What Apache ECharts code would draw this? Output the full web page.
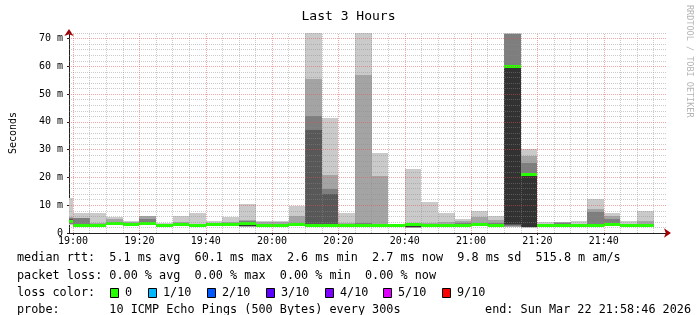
<!DOCTYPE html>
<html><head><meta charset="utf-8">
<script src="https://cdn.jsdelivr.net/npm/echarts@6/dist/echarts.min.js"></script>
<style>html,body{margin:0;padding:0;background:#fff}#c{width:697px;height:315px}</style>
</head><body><div id="c"></div>
<script>
// ---- data (5-minute slots, start times) ----
const slots = ['18:55','19:00','19:05','19:10','19:15','19:20','19:25','19:30','19:35','19:40','19:45','19:50',
  '19:55','20:00','20:05','20:10','20:15','20:20','20:25','20:30','20:35','20:40','20:45','20:50',
  '20:55','21:00','21:05','21:10','21:15','21:20','21:25','21:30','21:35','21:40','21:45','21:50'];
// sorted pings (ms): pingMin .. ping5, median (6th), ping7 .. pingMax
const pingMax = [12.6,7.2,7.2,5.7,4.5,6.1,3.6,6.3,7.2,4.2,5.7,10.4,4.2,4.2,9.9,72,41.5,7.2,72,28.8,2.9,22.9,11.1,7.2,5.0,7.8,6.1,72,30.1,3.9,4.1,4.3,12.1,7.2,4.5,7.8];
const ping9   = [5.7,5.5,3.6,4.9,3.8,6.0,3.1,3.9,3.4,3.4,3.9,4.8,3.9,3.8,6.1,55.4,20.8,3.7,56.9,20.4,2.8,3.5,3.5,3.8,4.2,5.7,4.7,71.8,27.6,3.3,3.8,3.3,8.5,6.1,3.3,4.5];
const ping8   = [5.5,5.3,3.4,4.1,3.6,5.0,3.0,3.6,3.2,3.2,3.5,4.3,3.4,3.2,3.6,42.1,15.7,3.3,3.6,3.4,2.8,3.4,3.3,3.3,3.7,3.7,3.5,71.5,25.2,3.1,3.7,3.1,7.4,5.0,3.1,3.4];
const ping7   = [5.0,3.4,3.1,3.7,3.2,4.0,2.9,3.3,3.0,3.1,3.3,3.8,3.0,2.9,3.2,37.0,13.9,3.0,3.2,3.1,2.7,3.3,3.1,3.0,3.2,3.3,3.1,60.6,21.3,2.9,3.1,2.9,3.1,3.6,2.9,3.1];
const median  = [4.3,2.8,2.8,3.4,2.9,3.4,2.7,3.0,2.8,2.9,2.9,3.6,2.7,2.7,2.9,2.8,2.8,2.7,2.7,2.7,2.6,3.1,2.8,2.7,2.7,2.9,2.6,60.1,21.0,2.7,2.6,2.6,2.6,3.1,2.6,2.7];
const ping5   = [3.7,2.7,2.7,3.3,2.8,3.3,2.6,2.9,2.7,2.8,2.8,2.6,2.6,2.6,2.8,2.7,2.7,2.6,2.6,2.6,2.5,2.2,2.7,2.6,2.6,2.8,2.5,3.2,2.3,2.6,2.5,2.5,2.5,3.0,2.5,2.6];
const ping4   = [3.5,2.6,2.6,3.2,2.7,3.2,2.5,2.8,2.6,2.7,2.7,2.5,2.5,2.5,2.7,2.6,2.6,2.5,2.5,2.5,2.4,2.1,2.6,2.5,2.5,2.7,2.4,2.8,2.2,2.5,2.4,2.4,2.4,2.9,2.4,2.5];
const ping3   = [3.3,2.5,2.5,3.1,2.6,3.0,2.4,2.7,2.5,2.6,2.6,2.4,2.4,2.4,2.6,2.5,2.5,2.4,2.4,2.4,2.3,2.0,2.5,2.4,2.4,2.6,2.3,2.4,2.1,2.4,2.3,2.3,2.3,2.8,2.3,2.4];
const ping2   = [3.1,2.4,2.4,3.0,2.5,2.9,2.3,2.6,2.4,2.5,2.5,2.3,2.3,2.3,2.5,2.4,2.4,2.3,2.3,2.3,2.2,1.9,2.4,2.3,2.3,2.5,2.2,2.1,2.0,2.3,2.2,2.2,2.2,2.7,2.2,2.3];
const pingMin = [2.9,2.3,2.3,2.9,2.4,2.8,2.2,2.5,2.3,2.4,2.4,2.2,2.2,2.2,2.4,2.3,2.3,2.2,2.2,2.2,2.1,1.8,2.3,2.2,2.2,2.4,2.1,2.0,1.9,2.2,2.1,2.1,2.1,2.6,2.1,2.2];

const axisStart = '18:58:46';
const axisEnd = '21:58:46';
const timeTicks = ['19:00','19:20','19:40','20:00','20:20','20:40','21:00','21:20','21:40'];
const yTickValues = [0,10,20,30,40,50,60,70];
const yTicks = ['0','10 m','20 m','30 m','40 m','50 m','60 m','70 m'];

const lossLabels = ['0','1/10','2/10','3/10','4/10','5/10','9/10'];
const lossColors = ['#26ff00','#00b8ff','#0059ff','#5e00ff','#7e00ff','#dd00ff','#ff0000'];

const legendRtt  = 'median rtt:  5.1 ms avg  60.1 ms max  2.6 ms min  2.7 ms now  9.8 ms sd  515.8 m am/s';
const legendLoss = 'packet loss: 0.00 % avg  0.00 % max  0.00 % min  0.00 % now';
const legendProbe = 'probe:       10 ICMP Echo Pings (500 Bytes) every 300s';
const legendEnd = 'end: Sun Mar 22 21:58:46 2026';

// ---- helpers ----
const toMin = s => { const p = s.split(':').map(Number); return (p[0]-19)*60 + p[1] + (p[2]||0)/60; };
const xMin = toMin(axisStart), xMax = toMin(axisEnd);
const slotLen = 5;
const FONT = 'DejaVu Sans Mono';
const smokeColors = ['#cacaca','#a4a4a4','#7e7e7e','#585858','#323232'];

const data = slots.map((s,i)=>[toMin(s), pingMin[i], ping2[i], ping3[i], ping4[i], ping5[i], median[i], ping7[i], ping8[i], ping9[i], pingMax[i]]);

function renderSmoke(params, api){
  const t = api.value(0);
  const xa = Math.round(api.coord([t,0])[0]);
  const xb = Math.round(api.coord([t+slotLen,0])[0]);
  const Y = k => Math.round(api.coord([t, api.value(k)])[1]);
  const children = [];
  for (let L=1; L<=5; L++){
    const yTop = Y(11-L), yBot = Y(L);
    if (yBot - yTop > 0) children.push({type:'rect', shape:{x:xa, y:yTop, width:xb-xa, height:yBot-yTop}, style:{fill:smokeColors[L-1]}});
  }
  const ym = api.coord([t, api.value(6)])[1];
  children.push({type:'rect', shape:{x:xa, y:Math.round(ym-1.5), width:xb-xa, height:3}, style:{fill:lossColors[0]}});
  return {type:'group', children};
}

// grid lines (drawn over the smoke like rrdtool)
const vMinor=[], vMajor=[], hMinor=[], hMajor=[];
for (let m=0; m<=175; m+=5) (m%20===0 ? vMajor : vMinor).push({xAxis:m});
for (let v=2; v<=72; v+=2) (v%10===0 ? hMajor : hMinor).push({yAxis:v});

const chart = echarts.init(document.getElementById('c'), null, {renderer:'canvas', width:697, height:315});

const rowY = [258, 276, 293, 310];
const txt = (x, y, text, extra) => ({type:'text', x:x, y:y, style:Object.assign({text:text, fontFamily:FONT, fontSize:11.8, fill:'#000', verticalAlign:'middle', textVerticalAlign:'middle'}, extra||{})});
const graphic = [
  txt(17, rowY[0], legendRtt),
  txt(17, rowY[1], legendLoss),
  txt(17, rowY[2], 'loss color:'),
  txt(17, rowY[3], legendProbe),
  txt(691, rowY[3], legendEnd, {align:'right', textAlign:'right'}),
  {type:'text', x:689, y:5, rotation:-Math.PI/2, style:{text:'RRDTOOL / TOBI OETIKER', fontFamily:FONT, fontSize:8.5, fill:'#b4b4b4', align:'left', textAlign:'left', verticalAlign:'middle', textVerticalAlign:'middle'}}
];
const boxX = [110,148,207,266,325,383,442];
lossLabels.forEach((lab,i)=>{
  graphic.push({type:'rect', shape:{x:boxX[i]+0.5, y:rowY[2]-4.5, width:8, height:9}, style:{fill:lossColors[i], stroke:'#000', lineWidth:1}});
  graphic.push(txt(boxX[i]+15, rowY[2], lab));
});

const gridLineCommon = {symbol:'none', silent:true, animation:false, label:{show:false}, emphasis:{disabled:true}};

chart.setOption({
  animation:false,
  backgroundColor:'#ffffff',
  title:{text:'Last 3 Hours', left:'center', top:5, textStyle:{fontFamily:FONT, fontSize:13, fontWeight:'normal', color:'#000'}},
  grid:{left:67, right:31, top:33, bottom:82, containLabel:false},
  xAxis:[
    {type:'value', min:xMin, max:xMax, position:'bottom',
     axisLine:{show:true, onZero:false, lineStyle:{color:'#a00000', width:1}, symbol:['none','arrow'], symbolSize:[7,7], symbolOffset:[0,5]},
     axisTick:{show:false}, axisLabel:{show:false}, splitLine:{show:false}},
    {type:'value', min:xMin, max:xMax, position:'bottom',
     axisLine:{show:true, onZero:false, lineStyle:{color:'#202020', width:1}},
     axisTick:{show:true, customValues:[0,20,40,60,80,100,120,140,160], length:2, lineStyle:{color:'#202020'}},
     axisLabel:{customValues:[0,20,40,60,80,100,120,140,160], formatter:v=>timeTicks[Math.round(v/20)], fontFamily:FONT, fontSize:10, color:'#000', margin:3},
     splitLine:{show:false}}
  ],
  yAxis:[
    {type:'value', min:0, max:72, position:'left',
     axisLine:{show:true, onZero:false, lineStyle:{color:'#a00000', width:1}, symbol:['none','arrow'], symbolSize:[7,7], symbolOffset:[0,4]},
     axisTick:{show:false}, axisLabel:{show:false}, splitLine:{show:false}},
    {type:'value', min:0, max:72, position:'left',
     name:'Seconds', nameLocation:'middle', nameGap:51, nameRotate:90,
     nameTextStyle:{fontFamily:FONT, fontSize:10, color:'#000'},
     axisLine:{show:true, onZero:false, lineStyle:{color:'#202020', width:1}},
     axisTick:{show:true, customValues:yTickValues, length:2, lineStyle:{color:'#202020'}},
     axisLabel:{customValues:yTickValues, formatter:v=>yTicks[Math.round(v/10)], fontFamily:FONT, fontSize:10, color:'#000', margin:6},
     splitLine:{show:false}}
  ],
  series:[
    {type:'custom', name:'smoke', renderItem:renderSmoke, data:data, clip:true, z:2, silent:true,
     encode:{x:0, y:[1,2,3,4,5,6,7,8,9,10]}},
    {type:'line', data:[], z:5, silent:true,
     markLine:Object.assign({}, gridLineCommon, {lineStyle:{type:[1,1], color:'rgba(140,140,140,0.45)', width:1}, data:vMinor.concat(hMinor)})},
    {type:'line', data:[], z:6, silent:true,
     markLine:Object.assign({}, gridLineCommon, {lineStyle:{type:[1,1], color:'rgba(225,80,80,0.5)', width:1}, data:vMajor.concat(hMajor)})}
  ],
  graphic:graphic
});
</script>
</body></html>
